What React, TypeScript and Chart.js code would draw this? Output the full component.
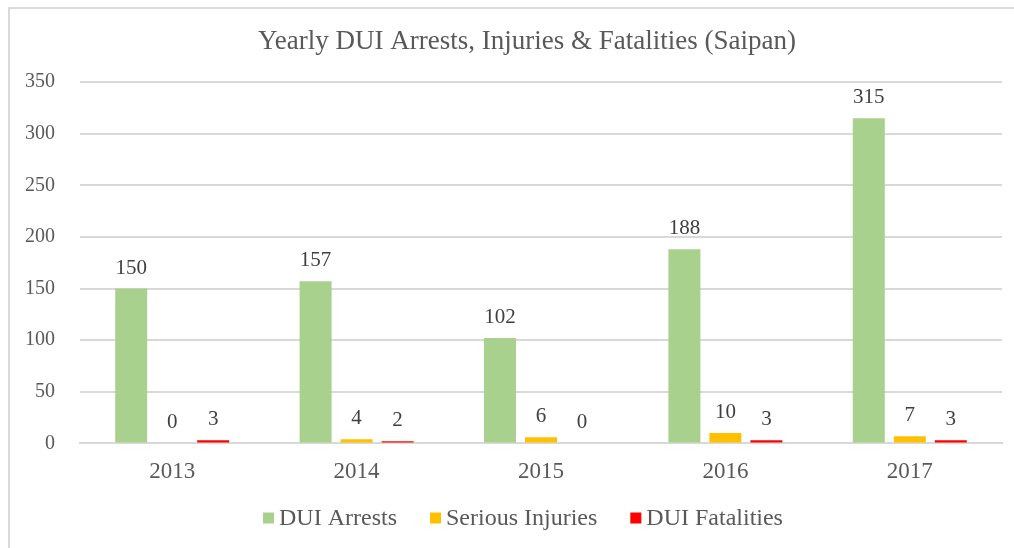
import React, { useEffect, useRef } from "react";
import { Chart, registerables } from "chart.js";

Chart.register(...registerables);

const chartTitle = "Yearly DUI Arrests, Injuries & Fatalities (Saipan)";
const categories = ["2013", "2014", "2015", "2016", "2017"];
const seriesNames = ["DUI Arrests", "Serious Injuries", "DUI Fatalities"];
const seriesColors = ["#A9D18E", "#FFC000", "#FF0000"];
const duiArrests = [150, 157, 102, 188, 315];
const seriousInjuries = [0, 4, 6, 10, 7];
const duiFatalities = [3, 2, 0, 3, 3];
const yTicks = [0, 50, 100, 150, 200, 250, 300, 350];

const FONT = "'Liberation Serif', 'Times New Roman', serif";

const dataLabels = {
  id: "dataLabels",
  afterDatasetsDraw(chart: any) {
    const ctx = chart.ctx;
    ctx.save();
    ctx.font = `21px ${FONT}`;
    ctx.fillStyle = "#404040";
    ctx.textAlign = "center";
    ctx.textBaseline = "alphabetic";
    chart.data.datasets.forEach((ds: any, i: number) => {
      const meta = chart.getDatasetMeta(i);
      meta.data.forEach((el: any, j: number) => {
        ctx.fillText(String(ds.data[j]), el.x, el.y - 15);
      });
    });
    ctx.restore();
  },
};

const titleAndLegend = {
  id: "titleAndLegend",
  afterDraw(chart: any) {
    const ctx = chart.ctx;
    ctx.save();
    // title
    ctx.font = `27px ${FONT}`;
    ctx.fillStyle = "#595959";
    ctx.textAlign = "center";
    ctx.textBaseline = "alphabetic";
    ctx.fillText(chartTitle, 527, 49);
    // legend
    ctx.font = `24px ${FONT}`;
    ctx.textBaseline = "middle";
    ctx.textAlign = "left";
    const box = 11;
    const gapBoxText = 5;
    const gapItems = 33;
    const items = chart.data.datasets.map((ds: any) => ({
      label: ds.label,
      color: ds.backgroundColor,
      w: ctx.measureText(ds.label).width,
    }));
    const total =
      items.reduce((s: number, it: any) => s + box + gapBoxText + it.w, 0) +
      gapItems * (items.length - 1);
    let x = 523 - total / 2;
    const y = 519;
    items.forEach((it: any) => {
      ctx.fillStyle = it.color;
      ctx.fillRect(x, y - box / 2 - 1, box, box);
      ctx.fillStyle = "#595959";
      ctx.fillText(it.label, x + box + gapBoxText, y);
      x += box + gapBoxText + it.w + gapItems;
    });
    ctx.restore();
  },
};

const frame = {
  id: "frame",
  afterDraw(chart: any) {
    const ctx = chart.ctx;
    ctx.save();
    ctx.strokeStyle = "#d9d9d9";
    ctx.lineWidth = 2;
    ctx.beginPath();
    ctx.moveTo(9, 548);
    ctx.lineTo(9, 8);
    ctx.lineTo(1014, 8);
    ctx.stroke();
    ctx.restore();
  },
};

export default function App() {
  const ref = useRef<HTMLCanvasElement>(null);
  useEffect(() => {
    if (!ref.current) return;
    const chart = new Chart(ref.current, {
      type: "bar",
      data: {
        labels: categories,
        datasets: [
          { label: seriesNames[0], data: duiArrests, backgroundColor: seriesColors[0] },
          { label: seriesNames[1], data: seriousInjuries, backgroundColor: seriesColors[1] },
          { label: seriesNames[2], data: duiFatalities, backgroundColor: seriesColors[2] },
        ],
      },
      options: {
        animation: false,
        responsive: false,
        maintainAspectRatio: false,
        layout: { padding: { left: 10, right: 12, top: 82, bottom: 47 } },
        datasets: { bar: { categoryPercentage: 0.667, barPercentage: 0.78 } },
        plugins: {
          title: { display: false },
          legend: { display: false },
          tooltip: { enabled: false },
        },
        scales: {
          x: {
            grid: { display: false, drawTicks: false },
            border: { color: "#d9d9d9", width: 2 },
            ticks: { color: "#595959", font: { family: FONT, size: 23 }, padding: 15 },
          },
          y: {
            min: 0,
            max: 350,
            afterBuildTicks(scale: any) {
              scale.ticks = yTicks.map((v) => ({ value: v }));
            },
            afterFit(scale: any) {
              scale.width = 70;
            },
            grid: { color: "#d9d9d9", lineWidth: 2, drawTicks: false },
            border: { display: false },
            ticks: { color: "#595959", font: { family: FONT, size: 20 }, padding: 25 },
          },
        },
      },
      plugins: [dataLabels, titleAndLegend, frame],
    });
    return () => chart.destroy();
  }, []);
  return (
    <canvas
      ref={ref}
      width={1014}
      height={548}
      style={{ position: "fixed", left: 0, top: 0, width: 1014, height: 548 }}
    />
  );
}
